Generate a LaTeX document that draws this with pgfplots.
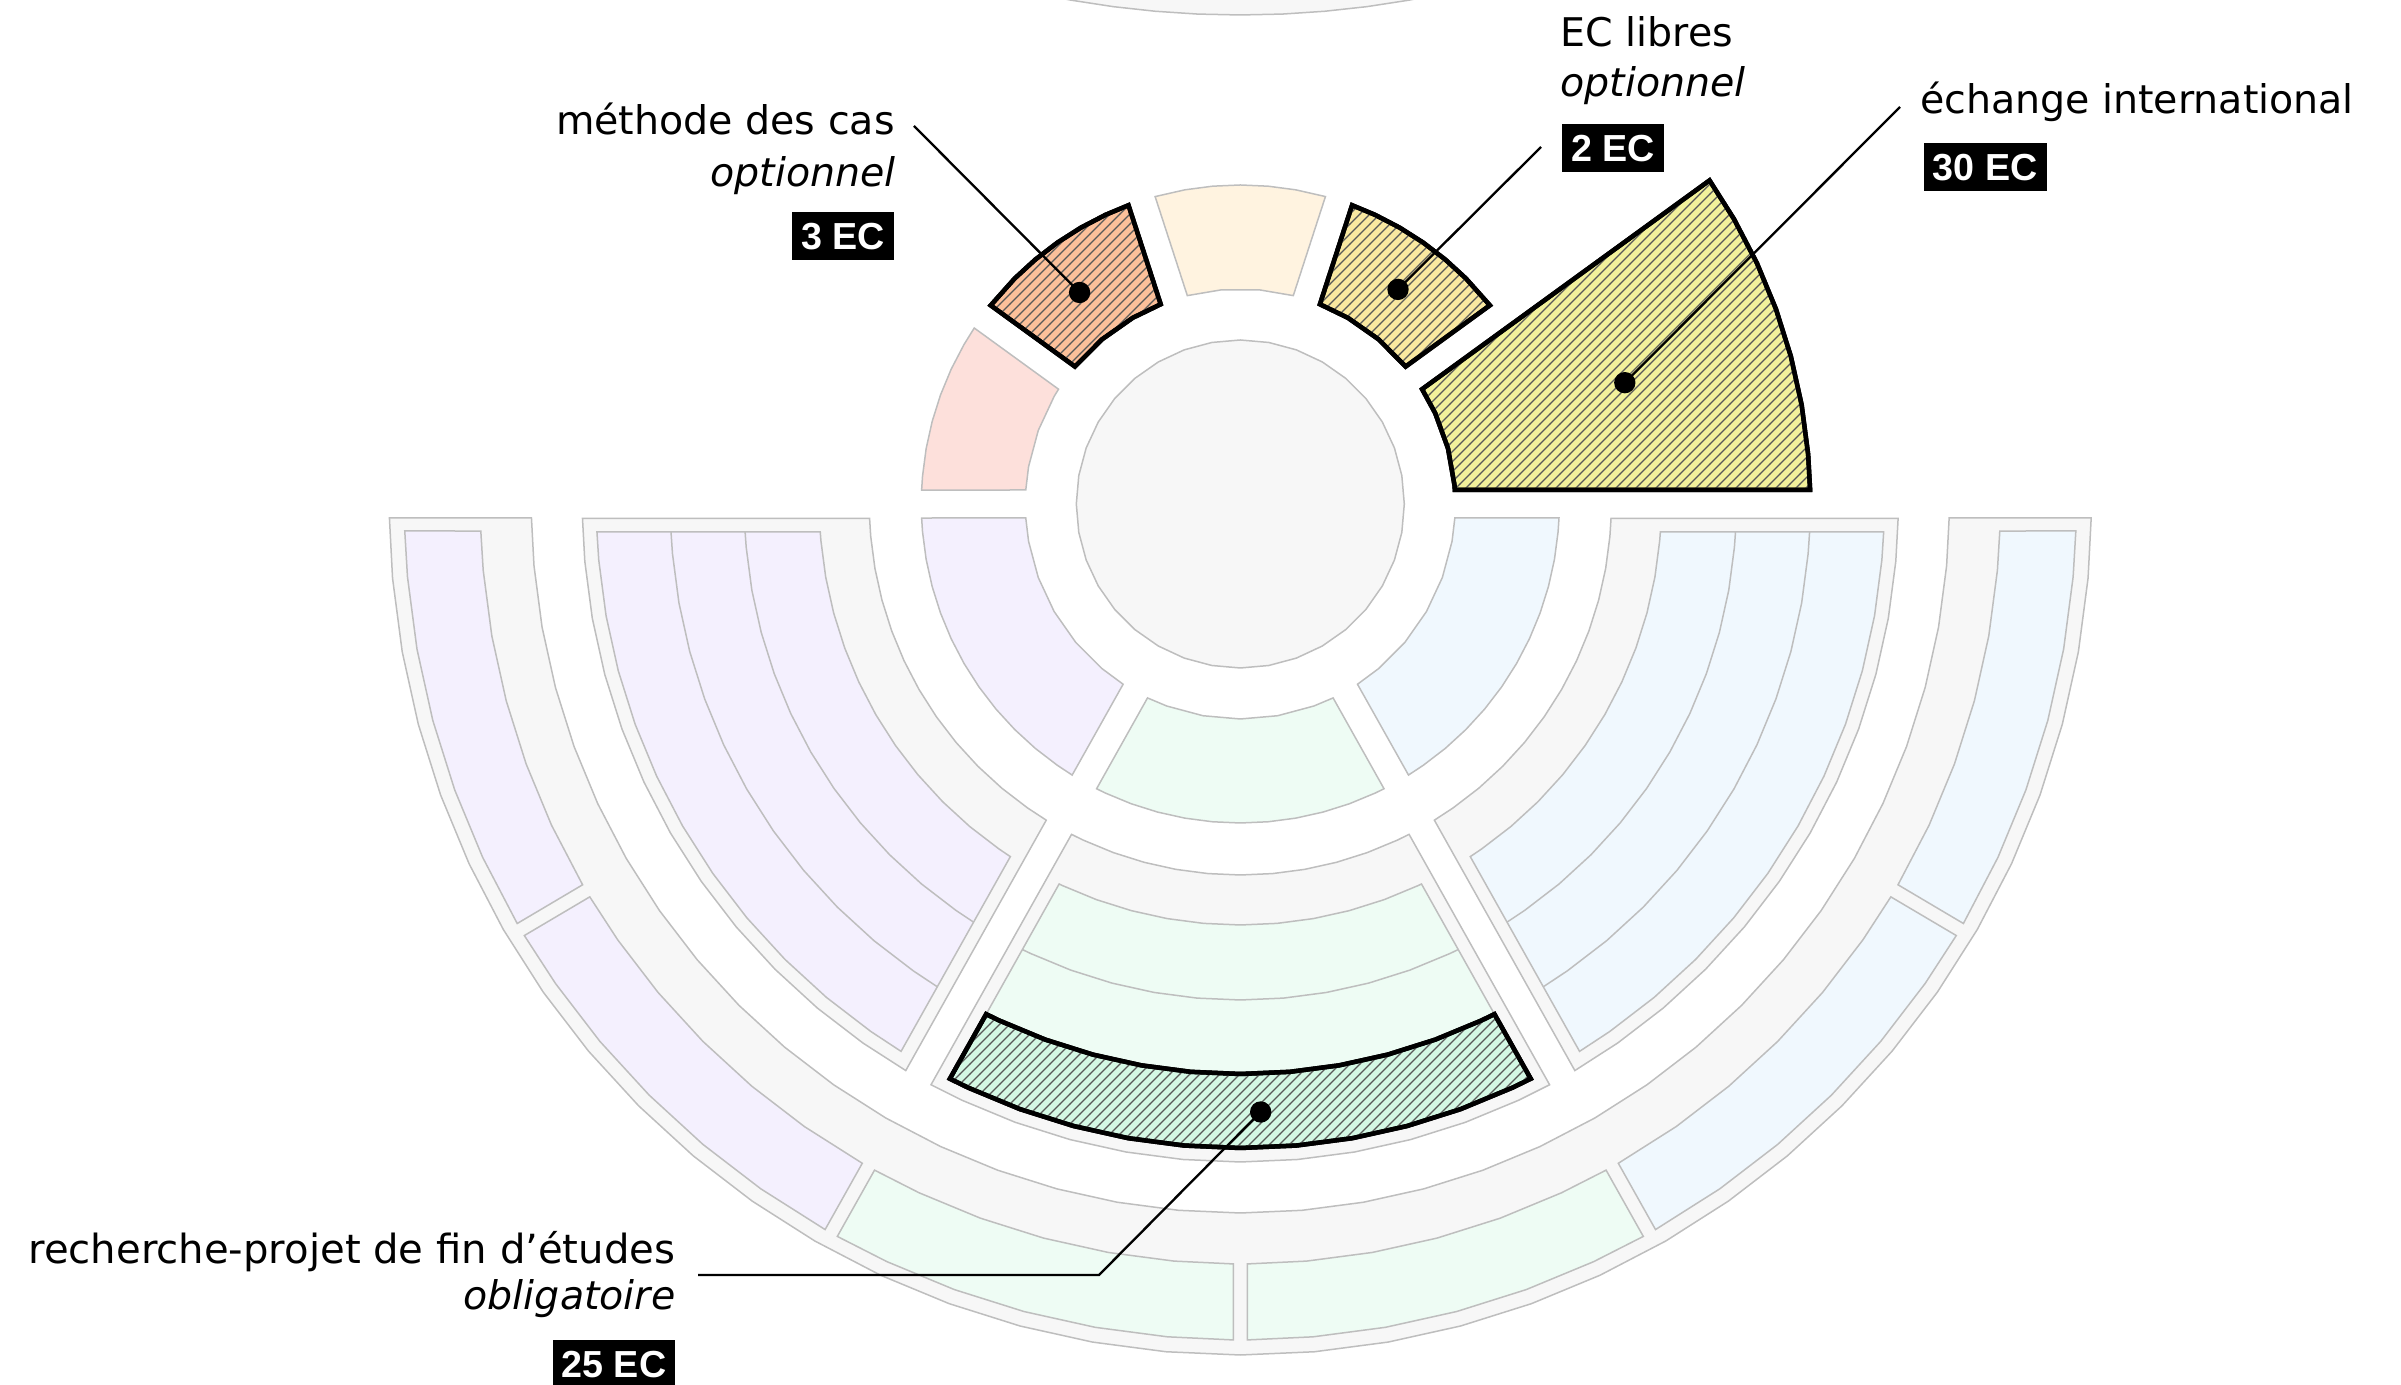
\documentclass[border=0pt]{standalone}
\usepackage{pgfplots}
\pgfplotsset{compat=1.18}
\usetikzlibrary{patterns}
\usepackage{fontspec}
\setmainfont{DejaVu Sans}
\newfontfamily\boxfont{Liberation Sans}
\definecolor{strk}{RGB}{190,190,190}
\definecolor{grayF}{RGB}{247,247,247}
\definecolor{pinkF}{RGB}{253,224,219}
\definecolor{orangeF}{RGB}{255,243,224}
\definecolor{methode}{RGB}{252,192,154}
\definecolor{libres}{RGB}{249,232,160}
\definecolor{echange}{RGB}{242,241,155}
\definecolor{purpleF}{RGB}{244,240,254}
\definecolor{greenF}{RGB}{238,252,244}
\definecolor{blueF}{RGB}{240,248,254}
\definecolor{recherche}{RGB}{212,248,228}
\newcommand{\mainsz}{\fontsize{11.85}{14}\selectfont}
\newcommand{\boxsz}{\boxfont\bfseries\fontsize{11.3}{12}\selectfont}
\pgfplotsset{
  faded/.style={data cs=polar, draw=strk, line width=0.45pt},
  dv/.style={data cs=polar, draw=strk, line width=0.45pt},
  hl/.style={data cs=polar, draw=black, line width=1.35pt, postaction={pattern=north east lines, pattern color=black!65}},
  lead/.style={draw=black, line width=0.7pt},
}
\tikzset{
  lbl/.style={inner sep=0pt, font=\mainsz},
  ec/.style={fill=black, text=white, font=\boxsz, inner xsep=2.7pt, inner ysep=3.1pt, text height=8.1pt, text depth=0pt},
}
\begin{document}
\begin{tikzpicture}
\begin{axis}[x=0.3pt, y=0.3pt, xmin=-1240.3, xmax=1160.7, ymin=-880, ymax=504, hide axis, clip=true]

% piece of the chart above
\addplot[draw=strk, line width=0.45pt, fill=grayF] coordinates {(-202.2,510.2) (-168.9,503.75) (-127,497.3) (-84.9,492.7) (-42.7,489.9) (-0.3,489) (42.1,489.9) (84.3,492.7) (126.4,497.3) (168.3,503.75) (201.6,510.2) (201.6,540) (-202.2,540)} -- cycle;

% centre circle
\addplot[faded, fill=grayF] coordinates {(0,164) (10,164) (20,164) (30,164) (40,164) (50,164) (60,164) (70,164) (80,164) (90,164) (100,164) (110,164) (120,164) (130,164) (140,164) (150,164) (160,164) (170,164) (180,164) (190,164) (200,164) (210,164) (220,164) (230,164) (240,164) (250,164) (260,164) (270,164) (280,164) (290,164) (300,164) (310,164) (320,164) (330,164) (340,164) (350,164)} -- cycle;

% top ring
\addplot[faded, fill=pinkF] coordinates {(146.52,319) (150,319) (155,319) (160,319) (165,319) (170,319) (175,319) (177.49,319) (176.27,215) (170,215) (160,215) (150,215) (147.73,215)} -- cycle;
\addplot[faded, fill=orangeF] coordinates {(74.52,319) (80,319) (85,319) (90,319) (95,319) (100,319) (105.49,319) (104.27,215) (95,215) (85,215) (75.73,215)} -- cycle;
\addplot[hl, fill=methode] coordinates {(110.52,319) (115,319) (120,319) (125,319) (130,319) (135,319) (141.49,319) (140.27,215) (130,215) (120,215) (111.73,215)} -- cycle;
\addplot[hl, fill=libres] coordinates {(38.52,319) (45,319) (50,319) (55,319) (60,319) (65,319) (69.49,319) (68.27,215) (60,215) (50,215) (39.73,215)} -- cycle;
\addplot[hl, fill=echange] coordinates {(1.41,570) (5,570) (10,570) (15,570) (20,570) (25,570) (30,570) (34.59,570) (32.27,215) (25,215) (15,215) (5,215) (3.73,215)} -- cycle;

% bottom inner ring
\addplot[faded, fill=purpleF] coordinates {(182.52,319) (185,319) (190,319) (195,319) (200,319) (205,319) (210,319) (215,319) (220,319) (225,319) (230,319) (235,319) (238.19,319) (236.97,215) (230,215) (220,215) (210,215) (200,215) (190,215) (183.73,215)} -- cycle;
\addplot[faded, fill=greenF] coordinates {(243.22,319) (245,319) (250,319) (255,319) (260,319) (265,319) (270,319) (275,319) (280,319) (285,319) (290,319) (295,319) (296.78,319) (295.57,215) (290,215) (280,215) (270,215) (260,215) (250,215) (244.43,215)} -- cycle;
\addplot[faded, fill=blueF] coordinates {(301.82,319) (305,319) (310,319) (315,319) (320,319) (325,319) (330,319) (335,319) (340,319) (345,319) (350,319) (355,319) (357.49,319) (356.27,215) (350,215) (340,215) (330,215) (320,215) (310,215) (303.03,215)} -- cycle;

% middle containers
\addplot[faded, fill=grayF] coordinates {(181.26,658) (185,658) (190,658) (195,658) (200,658) (205,658) (210,658) (215,658) (220,658) (225,658) (230,658) (235,658) (239.44,658) (238.46,371) (235,371) (230,371) (225,371) (220,371) (215,371) (210,371) (205,371) (200,371) (195,371) (190,371) (185,371) (182.24,371)} -- cycle;
\addplot[faded, fill=grayF] coordinates {(241.96,658) (245,658) (250,658) (255,658) (260,658) (265,658) (270,658) (275,658) (280,658) (285,658) (290,658) (295,658) (298.04,658) (297.06,371) (295,371) (290,371) (285,371) (280,371) (275,371) (270,371) (265,371) (260,371) (255,371) (250,371) (245,371) (242.94,371)} -- cycle;
\addplot[faded, fill=grayF] coordinates {(300.56,658) (305,658) (310,658) (315,658) (320,658) (325,658) (330,658) (335,658) (340,658) (345,658) (350,658) (355,658) (358.74,658) (357.76,371) (355,371) (350,371) (345,371) (340,371) (335,371) (330,371) (325,371) (320,371) (315,371) (310,371) (305,371) (301.54,371)} -- cycle;

% middle purple bands
\addplot[faded, fill=purpleF] coordinates {(182.49,644) (185,644) (190,644) (195,644) (200,644) (205,644) (210,644) (215,644) (220,644) (225,644) (230,644) (235,644) (238.21,644) (236.89,421) (235,421) (230,421) (225,421) (220,421) (215,421) (210,421) (205,421) (200,421) (195,421) (190,421) (185,421) (183.81,421)} -- cycle;
\addplot[dv] coordinates {(183.24,496) (185,496) (190,496) (195,496) (200,496) (205,496) (210,496) (215,496) (220,496) (225,496) (230,496) (235,496) (237.46,496)};
\addplot[dv] coordinates {(182.82,570) (185,570) (190,570) (195,570) (200,570) (205,570) (210,570) (215,570) (220,570) (225,570) (230,570) (235,570) (237.88,570)};

% middle green bands
\addplot[faded, fill=greenF] coordinates {(243.52,570) (245,570) (250,570) (255,570) (260,570) (265,570) (270,570) (275,570) (280,570) (285,570) (290,570) (295,570) (296.48,570) (295.49,421) (295,421) (290,421) (285,421) (280,421) (275,421) (270,421) (265,421) (260,421) (255,421) (250,421) (245,421) (244.51,421)} -- cycle;
\addplot[dv] coordinates {(243.94,496) (245,496) (250,496) (255,496) (260,496) (265,496) (270,496) (275,496) (280,496) (285,496) (290,496) (295,496) (296.06,496)};
\addplot[hl, fill=recherche] coordinates {(243.19,644) (245,644) (250,644) (255,644) (260,644) (265,644) (270,644) (275,644) (280,644) (285,644) (290,644) (295,644) (296.81,644) (296.48,570) (295,570) (290,570) (285,570) (280,570) (275,570) (270,570) (265,570) (260,570) (255,570) (250,570) (245,570) (243.52,570)} -- cycle;

% middle blue bands
\addplot[faded, fill=blueF] coordinates {(301.79,644) (305,644) (310,644) (315,644) (320,644) (325,644) (330,644) (335,644) (340,644) (345,644) (350,644) (355,644) (357.51,644) (356.19,421) (355,421) (350,421) (345,421) (340,421) (335,421) (330,421) (325,421) (320,421) (315,421) (310,421) (305,421) (303.11,421)} -- cycle;
\addplot[dv] coordinates {(302.54,496) (305,496) (310,496) (315,496) (320,496) (325,496) (330,496) (335,496) (340,496) (345,496) (350,496) (355,496) (356.76,496)};
\addplot[dv] coordinates {(302.12,570) (305,570) (310,570) (315,570) (320,570) (325,570) (330,570) (335,570) (340,570) (345,570) (350,570) (355,570) (357.18,570)};

% outer container
\addplot[faded, fill=grayF] coordinates {(180.94,851) (185,851) (190,851) (195,851) (200,851) (205,851) (210,851) (215,851) (220,851) (225,851) (230,851) (235,851) (240,851) (245,851) (250,851) (255,851) (260,851) (265,851) (270,851) (275,851) (280,851) (285,851) (290,851) (295,851) (300,851) (305,851) (310,851) (315,851) (320,851) (325,851) (330,851) (335,851) (340,851) (345,851) (350,851) (355,851) (359.06,851) (358.87,709) (355,709) (350,709) (345,709) (340,709) (335,709) (330,709) (325,709) (320,709) (315,709) (310,709) (305,709) (300,709) (295,709) (290,709) (285,709) (280,709) (275,709) (270,709) (265,709) (260,709) (255,709) (250,709) (245,709) (240,709) (235,709) (230,709) (225,709) (220,709) (215,709) (210,709) (205,709) (200,709) (195,709) (190,709) (185,709) (181.13,709)} -- cycle;

% outer bands
\addplot[faded, fill=purpleF] coordinates {(181.85,836) (185,836) (190,836) (195,836) (200,836) (205,836) (210.12,836) (210.07,760) (205,760) (200,760) (195,760) (190,760) (185,760) (182.04,760)} -- cycle;
\addplot[faded, fill=purpleF] coordinates {(211.08,836) (215,836) (220,836) (225,836) (230,836) (235,836) (240.22,836) (240.17,760) (235,760) (230,760) (225,760) (220,760) (215,760) (211.13,760)} -- cycle;
\addplot[faded, fill=greenF] coordinates {(241.18,836) (245,836) (250,836) (255,836) (260,836) (265,836) (269.52,836) (269.47,760) (265,760) (260,760) (255,760) (250,760) (245,760) (241.23,760)} -- cycle;
\addplot[faded, fill=greenF] coordinates {(270.48,836) (275,836) (280,836) (285,836) (290,836) (295,836) (298.82,836) (298.77,760) (295,760) (290,760) (285,760) (280,760) (275,760) (270.53,760)} -- cycle;
\addplot[faded, fill=blueF] coordinates {(299.78,836) (305,836) (310,836) (315,836) (320,836) (325,836) (328.92,836) (328.87,760) (325,760) (320,760) (315,760) (310,760) (305,760) (299.83,760)} -- cycle;
\addplot[faded, fill=blueF] coordinates {(329.88,836) (335,836) (340,836) (345,836) (350,836) (355,836) (358.15,836) (357.96,760) (355,760) (350,760) (345,760) (340,760) (335,760) (329.93,760)} -- cycle;

% leader lines and dots
\addplot[lead] coordinates {(-326.3,378) (-160.7,211.5)};
\addplot[lead] coordinates {(300.7,357) (157.7,214.6)};
\addplot[lead] coordinates {(659.7,397) (384.5,121.3)};
\addplot[lead] coordinates {(-542.3,-771) (-141.3,-771) (20.4,-608)};
\addplot[only marks, mark=*, mark size=3pt, black] coordinates {(-160.7,211.5) (157.7,214.6) (384.5,121.3) (20.4,-608)};

% labels
\node[lbl, anchor=base east] at (axis cs:-345,369) {méthode des cas};
\node[lbl, anchor=base east] at (axis cs:-344,317.3) {\itshape optionnel};
\node[ec, anchor=east] at (axis cs:-345.5,268.15) {3 EC};

\node[lbl, anchor=base west] at (axis cs:319.7,457.3) {EC libres};
\node[lbl, anchor=base west] at (axis cs:319.7,407.3) {\itshape optionnel};
\node[ec, anchor=west] at (axis cs:321.4,355.65) {2 EC};

\node[lbl, anchor=base west] at (axis cs:679.2,390.7) {échange international};
\node[ec, anchor=west] at (axis cs:683,336.8) {30 EC};

\node[lbl, anchor=base east, font=\fontsize{12.05}{14}\selectfont] at (axis cs:-564.3,-759.3) {recherche-projet de fin d’études};
\node[lbl, anchor=base east] at (axis cs:-564.3,-806) {\itshape obligatoire};
\node[ec, anchor=east] at (axis cs:-564.3,-859.5) {25 EC};
\end{axis}
\pgfresetboundingbox
\path (current axis.south west) rectangle (current axis.north east);
\end{tikzpicture}
\end{document}
